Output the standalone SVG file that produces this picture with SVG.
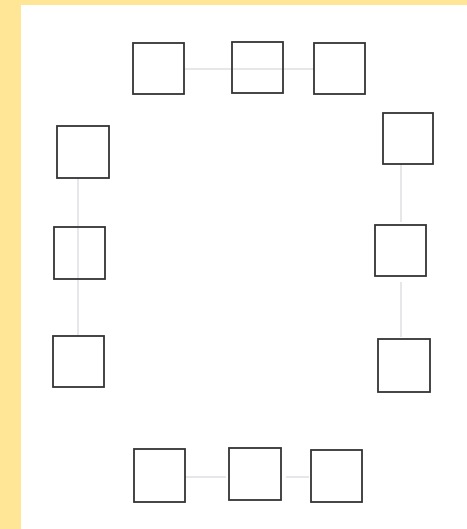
<svg xmlns="http://www.w3.org/2000/svg" width="467" height="529" viewBox="0 0 467 529">
<style>
.node rect{fill:#fff;stroke:#333;stroke-width:1.8}
.node rect.open{fill:none}
.conn line{stroke:#cfcfd6;stroke-width:1}
</style>
<rect x="0" y="0" width="467" height="529" fill="#ffe596"/>
<rect x="21" y="5" width="446" height="524" fill="#fff"/>
<g id="connectors" class="conn">
<line x1="184" y1="69" x2="315" y2="69"/>
<line x1="78" y1="178" x2="78" y2="336"/>
<line x1="401" y1="164" x2="401" y2="222"/>
<line x1="401" y1="282" x2="401" y2="337"/>
<line x1="185" y1="477" x2="226" y2="477"/>
<line x1="286" y1="477" x2="309" y2="477"/>
</g>
<g id="top-1" class="node"><rect x="133" y="43" width="51" height="51"/></g>
<g id="top-2" class="node"><rect class="open" x="232" y="42" width="51" height="51"/></g>
<g id="top-3" class="node"><rect x="314" y="43" width="51" height="51"/></g>
<g id="left-1" class="node"><rect x="57" y="126" width="52" height="52"/></g>
<g id="left-2" class="node"><rect class="open" x="54" y="227" width="51" height="52"/></g>
<g id="left-3" class="node"><rect x="53" y="336" width="51" height="51"/></g>
<g id="right-1" class="node"><rect x="383" y="113" width="50" height="51"/></g>
<g id="right-2" class="node"><rect x="375" y="225" width="51" height="51"/></g>
<g id="right-3" class="node"><rect x="378" y="339" width="52" height="53"/></g>
<g id="bottom-1" class="node"><rect x="134" y="449" width="51" height="53"/></g>
<g id="bottom-2" class="node"><rect x="229" y="448" width="52" height="52"/></g>
<g id="bottom-3" class="node"><rect x="311" y="450" width="51" height="52"/></g>
</svg>
